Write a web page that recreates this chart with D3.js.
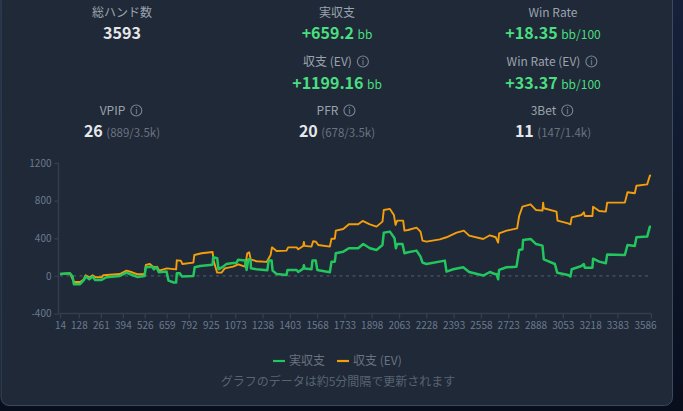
<!DOCTYPE html>
<html><head><meta charset="utf-8">
<script src="https://cdn.jsdelivr.net/npm/d3@7/dist/d3.min.js"></script>
<style>html,body{margin:0;padding:0;background:#0a1120;overflow:hidden}svg{display:block}text{font-family:"Noto Sans CJK JP","Noto Sans",sans-serif}</style>
</head><body><svg id="c" width="683" height="411"></svg>
<script>
const realHands=[14,74,90,98,135,159,169,191,211,225,265,295,376,416,450,480,525,533,571,581,597,611,658,670,702,716,720,738,752,820,828,860,936,940,964,972,1000,1020,1050,1081,1091,1132,1142,1152,1166,1168,1202,1267,1275,1293,1299,1323,1383,1389,1444,1454,1484,1488,1492,1534,1540,1560,1569,1645,1655,1675,1681,1726,1760,1816,1847,1887,1927,1963,1971,2008,2036,2044,2052,2084,2096,2118,2169,2193,2205,2229,2340,2350,2391,2451,2487,2572,2612,2642,2652,2662,2668,2713,2773,2789,2809,2813,2858,2890,2930,2938,3005,3019,3085,3099,3107,3166,3180,3186,3232,3236,3273,3313,3321,3428,3444,3488,3498,3563,3579,3586];
const realValues=[20,28,-7,-88,-88,-42,-7,-35,-7,-42,-42,-14,0,35,10,-10,0,92,99,70,92,39,46,-50,-70,-70,28,28,-7,0,92,106,120,198,188,70,99,127,134,141,173,163,64,177,170,81,71,60,163,163,57,21,11,64,64,42,78,113,78,71,163,163,64,39,152,152,241,258,294,294,340,294,276,329,460,471,400,294,340,340,241,251,269,205,142,127,163,46,71,92,42,4,42,21,21,-35,64,92,99,276,283,382,393,340,322,177,127,35,11,-7,71,106,127,88,88,184,152,135,227,223,329,319,411,418,524,524];
const evHands=[14,74,98,135,155,169,191,211,227,265,275,376,416,450,480,525,533,557,571,585,601,613,660,716,720,744,754,820,826,870,936,944,964,990,1010,1060,1091,1132,1146,1158,1166,1202,1263,1287,1295,1323,1383,1393,1444,1454,1484,1488,1492,1534,1544,1560,1575,1645,1655,1675,1681,1726,1760,1816,1843,1887,1927,1963,1971,2008,2032,2042,2052,2088,2096,2118,2169,2193,2205,2229,2310,2350,2411,2455,2487,2572,2612,2648,2662,2668,2713,2777,2789,2809,2858,2890,2930,2934,2938,3015,3021,3085,3099,3107,3166,3180,3186,3232,3236,3273,3313,3321,3428,3444,3488,3498,3563,3579,3586];
const evValues=[20,28,-64,-64,-42,7,-18,7,-14,-14,7,21,57,39,18,21,117,127,106,92,99,57,81,70,166,163,127,142,223,241,255,152,35,35,81,99,124,99,241,251,177,156,149,223,304,265,269,304,304,283,319,361,319,312,368,365,329,312,396,396,481,499,549,549,584,549,524,577,701,712,648,542,588,588,481,488,513,471,375,365,389,411,460,481,428,393,432,411,354,453,481,506,637,736,761,701,694,779,719,683,588,559,549,623,648,676,637,637,736,690,683,779,779,889,878,959,973,1065,1069];
const xTicks=[14,128,261,394,526,659,792,925,1073,1238,1403,1568,1733,1898,2063,2228,2393,2558,2723,2888,3053,3218,3383,3586];
const yTicks=[-400,0,400,800,1200];
const statRows=[
 [{label:"総ハンド数",main:"3593",cls:"w"},{label:"実収支",main:"+659.2",unit:"bb",cls:"g"},{label:"Win Rate",main:"+18.35",unit:"bb/100",cls:"g"}],
 [null,{label:"収支 (EV)",info:1,main:"+1199.16",unit:"bb",cls:"g"},{label:"Win Rate (EV)",info:1,main:"+33.37",unit:"bb/100",cls:"g"}],
 [{label:"VPIP",info:1,main:"26",sub:"(889/3.5k)",cls:"w"},{label:"PFR",info:1,main:"20",sub:"(678/3.5k)",cls:"w"},{label:"3Bet",info:1,main:"11",sub:"(147/1.4k)",cls:"w"}]
];
const legendItems=[{name:"実収支",color:"#22c55e",x:273},{name:"収支 (EV)",color:"#f59e0b",x:337}];
const caption="グラフのデータは約5分間隔で更新されます";

const svg=d3.select("#c");
const grad=svg.append("defs").append("linearGradient").attr("id","bg").attr("x1",0).attr("x2",0).attr("y1",0).attr("y2",1);
grad.append("stop").attr("offset",0).attr("stop-color","#16213a");
grad.append("stop").attr("offset",1).attr("stop-color","#080e1c");
svg.append("rect").attr("width",683).attr("height",411).attr("fill","url(#bg)");
svg.append("rect").attr("x",1).attr("y",-10).attr("width",671.5).attr("height",415.5).attr("rx",8)
  .attr("fill","#1f2937").attr("stroke","#3b4a5e").attr("stroke-width",1);

const colX=[122,337,553], labelY=[17,66,115], valY=[39,88.5,137];
statRows.forEach((row,r)=>row.forEach((s,c)=>{
  if(!s)return;
  const lab=svg.append("text").attr("x",colX[c]).attr("y",labelY[r]).attr("text-anchor","middle")
    .attr("font-size",12).attr("fill","#9ca3af").text(s.label);
  if(s.info){
    const w=lab.node().getComputedTextLength(), tot=w+17;
    lab.attr("x",colX[c]-1-tot/2+w/2);
    const ix=colX[c]-1+tot/2-6, iy=labelY[r]-4.5;
    svg.append("circle").attr("cx",ix).attr("cy",iy).attr("r",5.5).attr("fill","none").attr("stroke","#7b8494").attr("stroke-width",1.1);
    svg.append("text").attr("x",ix).attr("y",iy+3).attr("text-anchor","middle").attr("font-size",8.5).attr("fill","#8b93a1").text("i");
  }
  const v=svg.append("text").attr("x",colX[c]).attr("y",valY[r]).attr("text-anchor","middle");
  const col=s.cls==="g"?"#4ade80":"#e5e7eb";
  v.append("tspan").attr("font-size",16).attr("font-weight",700).attr("fill",col).text(s.main);
  if(s.unit)v.append("tspan").attr("dx",3.5).attr("font-size",12).attr("fill",col).text(s.unit);
  if(s.sub)v.append("tspan").attr("dx",3.5).attr("font-size",11.5).attr("fill","#6b7280").text(s.sub);
}));

const x=d3.scaleLinear().domain([14,3586]).range([60,651]);
const y=d3.scaleLinear().domain([-400,1200]).range([313.6,163]);
const axisCol="#333f50", tickCol="#6b7a90";
const gx=svg.append("g").attr("transform","translate(0,313.5)").call(d3.axisBottom(x).tickValues(xTicks).tickFormat(d=>d).tickSize(5).tickPadding(3));
const gy=svg.append("g").attr("transform","translate(58.5,0)").call(d3.axisLeft(y).tickValues(yTicks).tickFormat(d=>d).tickSize(4).tickPadding(3));
gx.select(".domain").attr("d","M58.5,0H651");
gy.select(".domain").attr("d","M0,162.5V313.5");
[gx,gy].forEach(g=>{
  g.selectAll(".domain,.tick line").attr("stroke",axisCol).attr("stroke-width",1.4);
  g.selectAll("text").attr("fill",tickCol).attr("font-size",10).style("font-family",'"Noto Sans CJK JP","Noto Sans",sans-serif');
});
gx.selectAll(".tick").filter(d=>d===3586).select("text").attr("dx",-6);
svg.append("line").attr("x1",60).attr("x2",651).attr("y1",y(0)).attr("y2",y(0))
  .attr("stroke","#4b5563").attr("stroke-width",1.2).attr("stroke-dasharray","3,3.5");

const line=d3.line().x(d=>x(d[0])).y(d=>y(d[1]));
svg.append("path").datum(d3.zip(evHands,evValues)).attr("d",line).attr("fill","none").attr("stroke","#f59e0b").attr("stroke-width",1.9).attr("stroke-linejoin","round");
svg.append("path").datum(d3.zip(realHands,realValues)).attr("d",line).attr("fill","none").attr("stroke","#22c55e").attr("stroke-width",2.5).attr("stroke-linejoin","round");

legendItems.forEach(d=>{
  svg.append("line").attr("x1",d.x).attr("x2",d.x+12).attr("y1",361).attr("y2",361).attr("stroke",d.color).attr("stroke-width",2.2);
  svg.append("text").attr("x",d.x+16).attr("y",365).attr("font-size",12).attr("fill","#6b7280").text(d.name);
});
svg.append("text").attr("x",338).attr("y",386).attr("text-anchor","middle").attr("font-size",12).attr("fill","#586373").text(caption);
</script></body></html>
